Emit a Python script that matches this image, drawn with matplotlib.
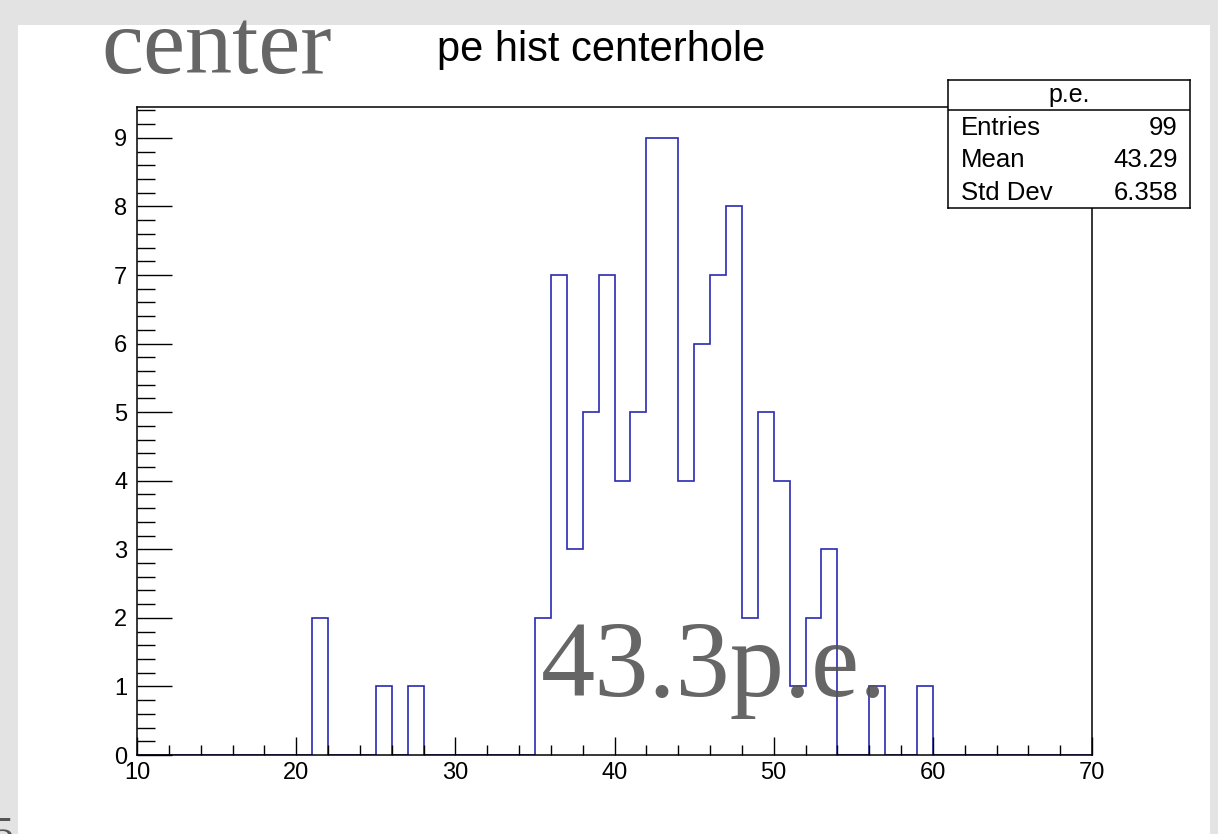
import numpy as np
import matplotlib.pyplot as plt
from matplotlib.patches import Rectangle
from matplotlib.ticker import MultipleLocator

# histogram of p.e. counts, 1 p.e. bins from 10 to 70
bin_edges = list(range(10, 71))
counts = [0, 0, 0, 0, 0, 0, 0, 0, 0, 0,
          0, 2, 0, 0, 0, 1, 0, 1, 0, 0,
          0, 0, 0, 0, 0, 2, 7, 3, 5, 7,
          4, 5, 9, 9, 4, 6, 7, 8, 2, 5,
          4, 1, 2, 3, 0, 0, 1, 0, 0, 1,
          0, 0, 0, 0, 0, 0, 0, 0, 0, 0]

hist_title = 'pe hist centerhole'
stats_name = 'p.e.'
stats_rows = ['Entries', 'Mean', 'Std Dev']
stats_vals = ['99', '43.29', '6.358']

W, H = 1218, 834
fig = plt.figure(figsize=(W / 100, H / 100), dpi=100)
fig.patch.set_facecolor('#e3e3e3')

# white slide area
fig.add_artist(Rectangle((18 / W, 0), (1210 - 18) / W, (H - 25) / H,
                         transform=fig.transFigure, facecolor='white',
                         edgecolor='none', zorder=0))

ax = fig.add_axes([137 / W, (H - 755) / H, (1092 - 137) / W, (755 - 107) / H])
ax.set_facecolor('white')
ax.stairs(counts, bin_edges, color='#2a2ab4', linewidth=1.2, baseline=0)
ax.set_xlim(10, 70)
ax.set_ylim(0, max(counts) * 1.05)

ax.xaxis.set_major_locator(MultipleLocator(10))
ax.xaxis.set_minor_locator(MultipleLocator(2))
ax.yaxis.set_major_locator(MultipleLocator(1))
ax.yaxis.set_minor_locator(MultipleLocator(0.2))
ax.tick_params(axis='x', which='major', direction='in', length=13, width=1,
               labelsize=17, pad=5, top=False)
ax.tick_params(axis='x', which='minor', direction='in', length=7, width=1, top=False)
ax.tick_params(axis='y', which='major', direction='in', length=25, width=1,
               labelsize=17, pad=7, right=False)
ax.tick_params(axis='y', which='minor', direction='in', length=13, width=1, right=False)
for lab in ax.get_xticklabels() + ax.get_yticklabels():
    lab.set_family('Liberation Sans')
for sp in ax.spines.values():
    sp.set_linewidth(1.1)

# stats box
sx = fig.add_axes([948 / W, (H - 208) / H, (1190 - 948) / W, (208 - 80) / H])
sx.set_facecolor('white')
sx.set_xticks([])
sx.set_yticks([])
sx.set_xlim(0, 1)
sx.set_ylim(0, 1)
for sp in sx.spines.values():
    sp.set_linewidth(1.1)
sx.axhline(0.766, color='black', linewidth=1.1)
sx.text(0.5, 0.885, stats_name, ha='center', va='center', fontsize=18,
        family='Liberation Sans')
row_y = [0.625, 0.375, 0.12]
for name, val, yy in zip(stats_rows, stats_vals, row_y):
    sx.text(0.055, yy, name, ha='left', va='center', fontsize=18.5,
            family='Liberation Sans')
    sx.text(0.95, yy, val, ha='right', va='center', fontsize=18.5,
            family='Liberation Sans')

# title and slide text
fig.text(601 / W, 1 - 50 / H, hist_title, ha='center', va='center',
         fontsize=30, family='Liberation Sans')
fig.text(101 / W, 1 - 73 / H, 'center', ha='left', va='baseline',
         fontsize=68, family='Liberation Serif', color='#666666')
fig.text(541 / W, 1 - 696 / H, '43.3p.e.', ha='left', va='baseline',
         fontsize=78, family='Liberation Serif', color='#555555', alpha=0.9)
fig.text(-8 / W, -12 / H, '5', ha='left', va='baseline',
         fontsize=30, family='Liberation Serif', color='#555555')

fig.savefig('out.png', dpi=100)
